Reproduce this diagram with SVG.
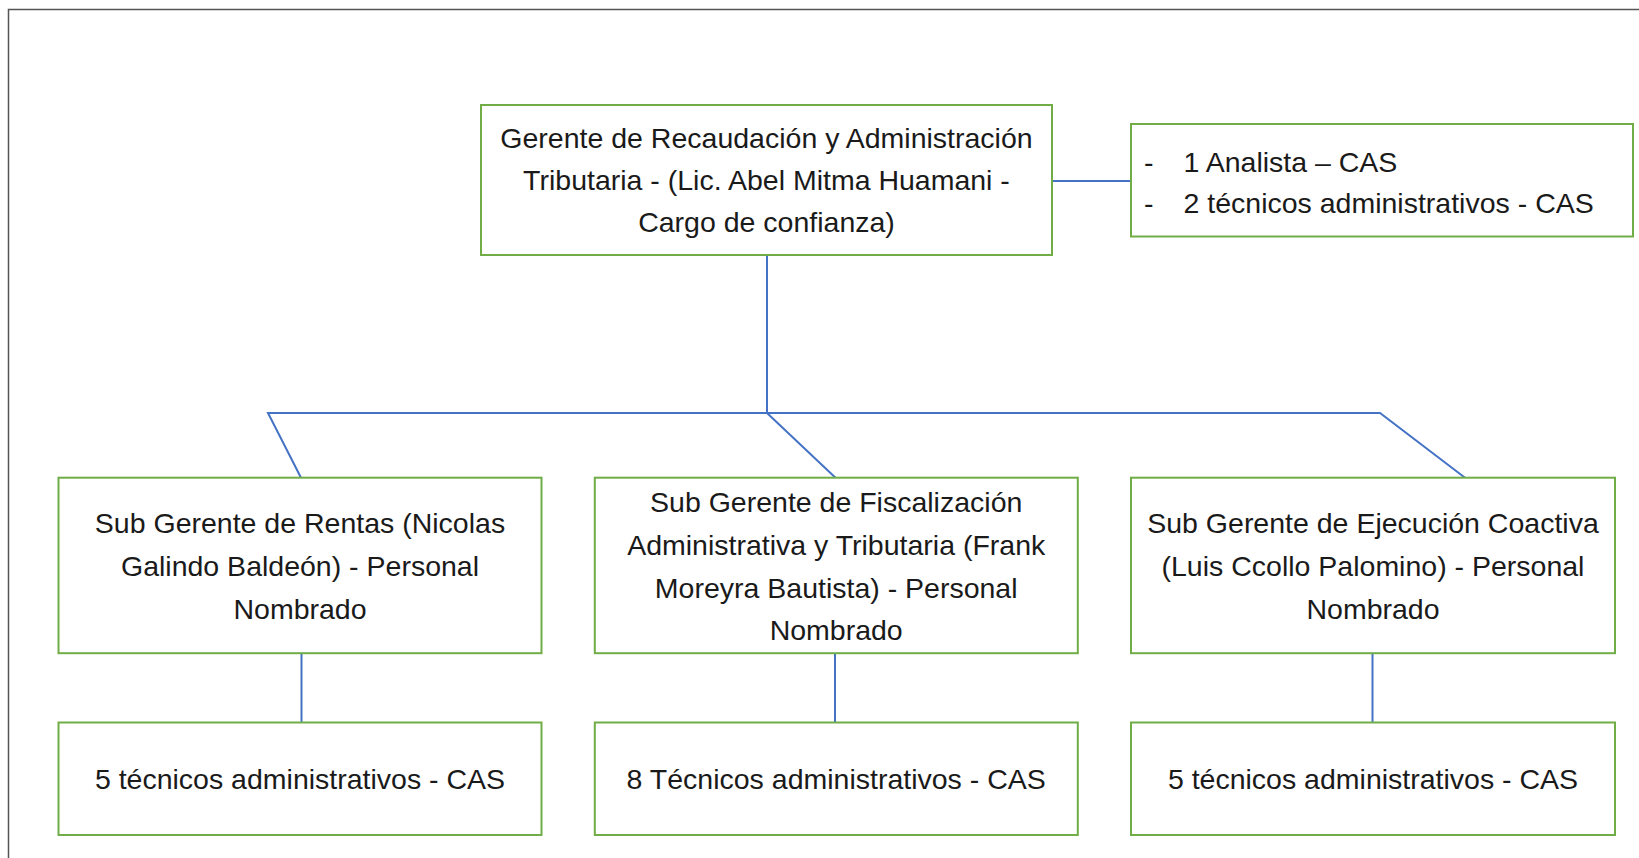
<svg xmlns="http://www.w3.org/2000/svg" width="1639" height="858" viewBox="0 0 1639 858">
<style>
.box{fill:#fff;stroke:#70AD47;stroke-width:2}
.t{font-family:"Liberation Sans",Arial,sans-serif;font-size:28.5px;fill:#1a1a1a}
.c{text-anchor:middle}
.ln{stroke:#4472C4;stroke-width:2;fill:none}
</style>
<rect width="1639" height="858" fill="#fff"/>
<path d="M8.5,858 V9.5 H1639" fill="none" stroke="#555" stroke-width="1.5"/>
<g id="connectors">
<line class="ln" x1="1052" y1="181" x2="1131" y2="181"/>
<line class="ln" x1="767" y1="255" x2="767" y2="413"/>
<polyline class="ln" points="301,477.7 268,413 1380,413 1465,477.7"/>
<line class="ln" x1="767" y1="413" x2="835.5" y2="477.7"/>
<line class="ln" x1="301.5" y1="653" x2="301.5" y2="722.5"/>
<line class="ln" x1="835" y1="653" x2="835" y2="722.5"/>
<line class="ln" x1="1372.5" y1="653" x2="1372.5" y2="722.5"/>
</g>
<g id="gerente">
<rect class="box" x="481" y="105" width="571" height="150"/>
<text class="t c" x="766.5" y="148">Gerente de Recaudación y Administración</text>
<text class="t c" x="766.5" y="190">Tributaria - (Lic. Abel Mitma Huamani -</text>
<text class="t c" x="766.5" y="232">Cargo de confianza)</text>
</g>
<g id="staff">
<rect class="box" x="1131" y="124" width="502" height="112.5"/>
<text class="t" x="1144" y="172">-</text>
<text class="t" x="1183.5" y="172">1 Analista – CAS</text>
<text class="t" x="1144" y="213">-</text>
<text class="t" x="1183.5" y="213">2 técnicos administrativos - CAS</text>
</g>
<g id="rentas">
<rect class="box" x="58.5" y="477.7" width="483" height="175.5"/>
<text class="t c" x="300" y="533">Sub Gerente de Rentas (Nicolas</text>
<text class="t c" x="300" y="575.5">Galindo Baldeón) - Personal</text>
<text class="t c" x="300" y="618.5">Nombrado</text>
</g>
<g id="fiscalizacion">
<rect class="box" x="594.8" y="477.7" width="483" height="175.5"/>
<text class="t c" x="836.2" y="512">Sub Gerente de Fiscalización</text>
<text class="t c" x="836.2" y="554.5">Administrativa y Tributaria (Frank</text>
<text class="t c" x="836.2" y="597.5">Moreyra Bautista) - Personal</text>
<text class="t c" x="836.2" y="640">Nombrado</text>
</g>
<g id="coactiva">
<rect class="box" x="1131" y="477.7" width="484" height="175.5"/>
<text class="t c" x="1373" y="533">Sub Gerente de Ejecución Coactiva</text>
<text class="t c" x="1373" y="575.5">(Luis Ccollo Palomino) - Personal</text>
<text class="t c" x="1373" y="618.5">Nombrado</text>
</g>
<g id="rentas-staff">
<rect class="box" x="58.5" y="722.5" width="483" height="112.5"/>
<text class="t c" x="300" y="789">5 técnicos administrativos - CAS</text>
</g>
<g id="fiscalizacion-staff">
<rect class="box" x="594.8" y="722.5" width="483" height="112.5"/>
<text class="t c" x="836.2" y="789">8 Técnicos administrativos - CAS</text>
</g>
<g id="coactiva-staff">
<rect class="box" x="1131" y="722.5" width="484" height="112.5"/>
<text class="t c" x="1373" y="789">5 técnicos administrativos - CAS</text>
</g>
</svg>
